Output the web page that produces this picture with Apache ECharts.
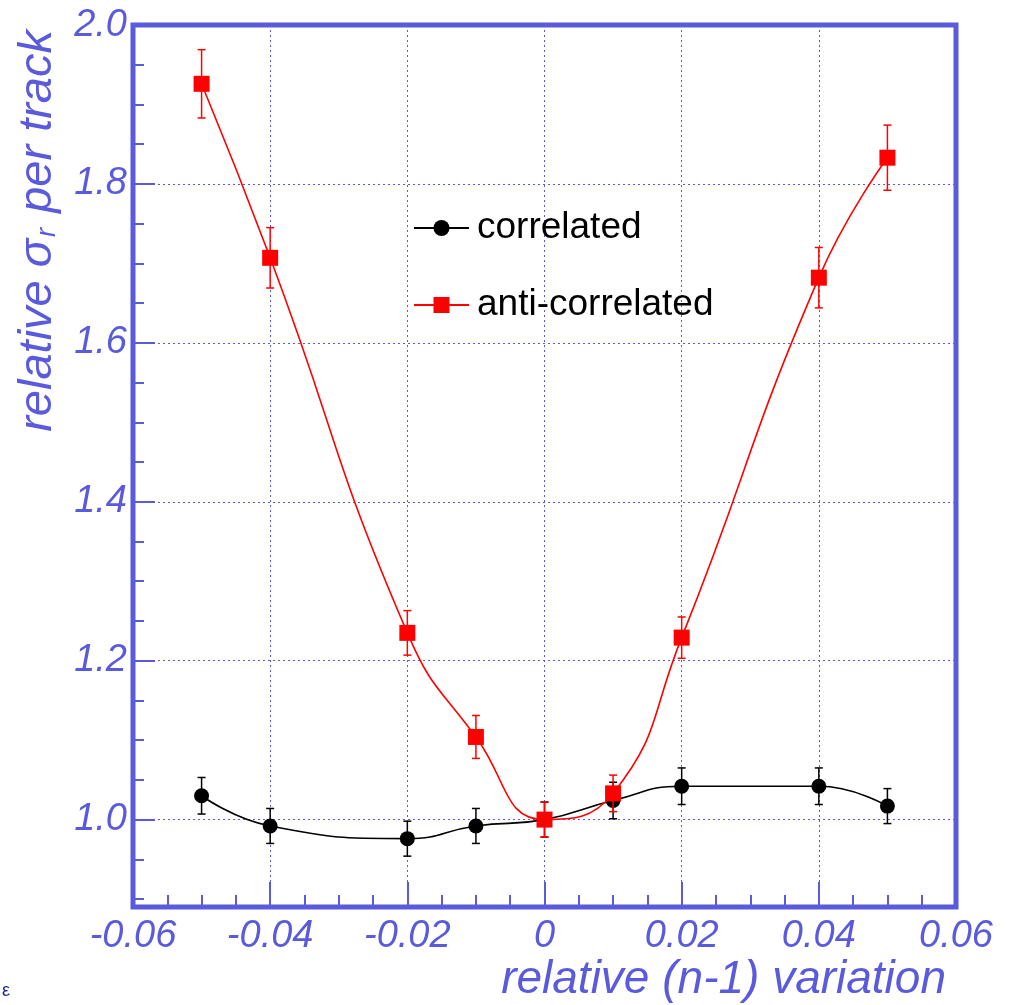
<!DOCTYPE html>
<html>
<head>
<meta charset="utf-8">
<title>relative sigma_r per track</title>
<script src="https://cdn.jsdelivr.net/npm/echarts@6/dist/echarts.min.js"></script>
<style>
  html, body { margin: 0; padding: 0; background: #ffffff; }
  #chart { width: 1015px; height: 1005px; }
</style>
</head>
<body>
<div id="chart"></div>
<script>
// (n-1) variation points
const xValues = [-0.05, -0.04, -0.02, -0.01, 0, 0.01, 0.02, 0.04, 0.05];

// relative sigma_r per track, with statistical errors
const correlated       = [1.030, 0.992, 0.976, 0.992, 1.000, 1.024, 1.042, 1.042, 1.017];
const correlatedErr    = [0.023, 0.022, 0.022, 0.022, 0.022, 0.023, 0.023, 0.023, 0.022];
const antiCorrelated   = [1.926, 1.707, 1.235, 1.104, 1.000, 1.033, 1.229, 1.682, 1.833];
const antiCorrelatedErr = [0.043, 0.038, 0.028, 0.027, 0.022, 0.023, 0.026, 0.038, 0.041];

// axis ticks
const yMajorTicks = [1.0, 1.2, 1.4, 1.6, 1.8, 2.0];
const yMinorTicks = [0.90, 0.95, 1.05, 1.10, 1.15, 1.25, 1.30, 1.35, 1.45, 1.50, 1.55,
                     1.65, 1.70, 1.75, 1.85, 1.90, 1.95];

const AXIS_BLUE = '#5a5adc';
const FONT = '"Liberation Sans", Helvetica, Arial, sans-serif';

function pairs(xs, ys) { return xs.map((x, i) => [x, ys[i]]); }
function triples(xs, ys, es) { return xs.map((x, i) => [x, ys[i], es[i]]); }

function errorBarRenderer(color) {
  return function (params, api) {
    const x = api.value(0), y = api.value(1), e = api.value(2);
    const hi = api.coord([x, y + e]);
    const lo = api.coord([x, y - e]);
    const cap = 4;
    const style = { stroke: color, lineWidth: 1.5, fill: null };
    return {
      type: 'group',
      children: [
        { type: 'line', shape: { x1: hi[0], y1: hi[1], x2: lo[0], y2: lo[1] }, style },
        { type: 'line', shape: { x1: hi[0] - cap, y1: hi[1], x2: hi[0] + cap, y2: hi[1] }, style },
        { type: 'line', shape: { x1: lo[0] - cap, y1: lo[1], x2: lo[0] + cap, y2: lo[1] }, style }
      ]
    };
  };
}

const chart = echarts.init(document.getElementById('chart'), null, { renderer: 'canvas' });

const gridLine = { show: true, lineStyle: { color: AXIS_BLUE, width: 1, type: [2, 3] } };

chart.setOption({
  animation: false,
  backgroundColor: '#ffffff',
  grid: {
    left: 133, right: 59, top: 25, bottom: 98,
    show: true, borderColor: AXIS_BLUE, borderWidth: 5,
    containLabel: false, outerBoundsMode: 'none'
  },
  legend: {
    orient: 'vertical',
    left: 413, top: 208,
    padding: 0,
    itemWidth: 55, itemHeight: 20, itemGap: 37,
    selectedMode: false,
    data: ['correlated', 'anti-correlated'],
    textStyle: { color: '#000', fontSize: 37, lineHeight: 40, fontFamily: FONT, padding: [0, 0, 0, 3] }
  },
  xAxis: {
    type: 'value',
    min: -0.06, max: 0.06, interval: 0.02,
    axisLine: { show: false, onZero: false },
    axisTick: { show: true, inside: true, length: 25, lineStyle: { color: AXIS_BLUE, width: 2 } },
    minorTick: { show: true, splitNumber: 4, length: 12, lineStyle: { color: AXIS_BLUE, width: 2 } },
    splitLine: gridLine,
    axisLabel: {
      color: AXIS_BLUE, fontSize: 38, fontStyle: 'italic', fontFamily: FONT,
      margin: 10, showMinLabel: true, showMaxLabel: true, hideOverlap: false
    },
    name: 'relative (n-1) variation',
    nameLocation: 'end',
    nameGap: -10,
    nameMoveOverlap: false,
    nameTextStyle: {
      color: AXIS_BLUE, fontSize: 46, fontStyle: 'italic', fontFamily: FONT,
      align: 'right', verticalAlign: 'top', lineHeight: 46, padding: [50, 0, 0, 0]
    }
  },
  yAxis: [
    {
      type: 'value',
      min: 0.89, max: 2.0,
      axisLine: { show: false, onZero: false },
      axisTick: { show: true, inside: true, length: 22, customValues: yMajorTicks,
                  lineStyle: { color: AXIS_BLUE, width: 2 } },
      splitLine: gridLine,
      axisLabel: {
        color: AXIS_BLUE, fontSize: 38, fontStyle: 'italic', fontFamily: FONT,
        margin: 6, customValues: yMajorTicks, formatter: v => v.toFixed(1),
        showMinLabel: true, showMaxLabel: true, hideOverlap: false
      },
      name: '{m|relative σ}{s|r}{m| per track}',
      nameLocation: 'end',
      nameRotate: 90,
      nameGap: -5,
      nameMoveOverlap: false,
      nameTextStyle: {
        align: 'right', verticalAlign: 'bottom', padding: [0, 0, 72, 0],
        rich: {
          m: { color: AXIS_BLUE, fontSize: 47, fontStyle: 'italic', fontFamily: FONT, lineHeight: 47 },
          s: { color: AXIS_BLUE, fontSize: 27, fontStyle: 'italic', fontFamily: FONT, lineHeight: 27,
               verticalAlign: 'bottom', padding: [0, 2, 0, 2] }
        }
      }
    },
    {
      // minor ticks on the left edge
      type: 'value',
      min: 0.89, max: 2.0,
      position: 'left',
      axisLine: { show: false, onZero: false },
      axisTick: { show: true, inside: true, length: 11, customValues: yMinorTicks,
                  lineStyle: { color: AXIS_BLUE, width: 2 } },
      axisLabel: { show: false },
      splitLine: { show: false }
    }
  ],
  series: [
    {
      name: 'correlated',
      type: 'line',
      data: pairs(xValues, correlated),
      smooth: 0.5,
      symbol: 'circle',
      symbolSize: 15,
      itemStyle: { color: '#000000' },
      lineStyle: { color: '#000000', width: 1.6 },
      z: 3
    },
    {
      name: 'correlated-errors',
      type: 'custom',
      data: triples(xValues, correlated, correlatedErr),
      renderItem: errorBarRenderer('#000000'),
      encode: { x: 0, y: [1, 2] },
      z: 3,
      silent: true
    },
    {
      name: 'anti-correlated',
      type: 'line',
      data: pairs(xValues, antiCorrelated),
      smooth: 0.5,
      symbol: 'rect',
      symbolSize: 16,
      itemStyle: { color: '#ff0000' },
      lineStyle: { color: '#ff0000', width: 1.6 },
      z: 5
    },
    {
      name: 'anti-correlated-errors',
      type: 'custom',
      data: triples(xValues, antiCorrelated, antiCorrelatedErr),
      renderItem: errorBarRenderer('#ff0000'),
      encode: { x: 0, y: [1, 2] },
      z: 4,
      silent: true
    }
  ],
  graphic: [
    { type: 'text', left: 2, top: 982, style: { text: 'ε', fontSize: 18, fill: '#24249a', fontFamily: FONT } }
  ]
});
</script>
</body>
</html>
